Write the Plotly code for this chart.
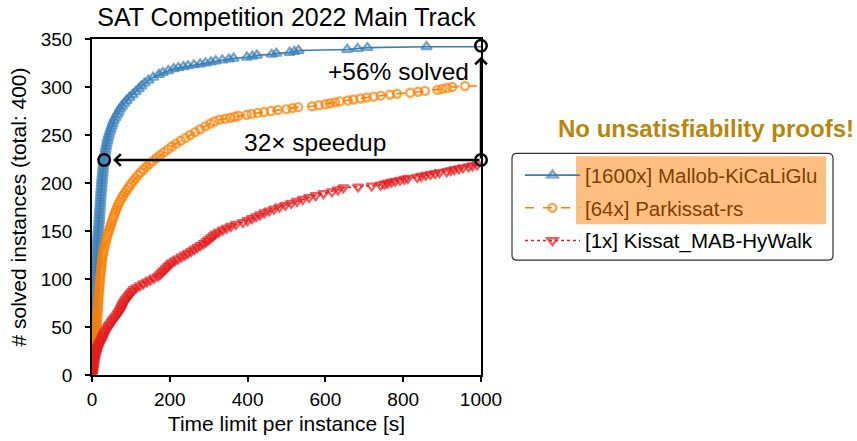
import plotly.graph_objects as go

# ---------------- data ----------------
mallob_counts = [1, 4, 7, 10, 13, 16, 19, 22, 25, 28, 31, 34, 37, 40, 43, 46, 49, 52, 55, 58,
                 61, 64, 67, 70, 73, 76, 79, 82, 85, 88, 91, 94, 97, 100, 103, 106, 109, 112, 115, 118,
                 121, 124, 127, 130, 133, 136, 139, 142, 145, 148, 151, 154, 157, 160, 163, 166, 169, 172, 175, 178,
                 181, 184, 187, 190, 193, 196, 199, 202, 205, 208, 211, 214, 217, 220, 223, 226, 229, 232, 235, 238,
                 241, 244, 247, 250, 253, 256, 259, 262, 265, 268, 271, 274, 277, 280, 283, 286, 289, 292, 295, 298,
                 301, 304, 307, 310, 313, 315, 317, 319, 320, 321, 322, 323, 324, 325, 326, 327, 328, 329, 330, 331,
                 332, 333, 334, 335, 336, 337, 338, 339, 340, 341, 342]
mallob_times = [0.8, 1.0, 1.2, 1.4, 1.6, 1.8, 2.0, 2.2, 2.4, 2.6, 2.8, 3.0, 3.2, 3.4, 3.6, 3.8, 4.0, 4.2, 4.4, 4.6,
                4.8, 5.0, 5.2, 5.4, 5.6, 5.8, 6.0, 6.2, 6.4, 6.6, 6.8, 7.0, 7.3, 7.6, 8.0, 8.4, 8.8, 9.2, 9.6, 10.0,
                10.5, 11.0, 11.5, 12.0, 12.6, 13.2, 13.8, 14.4, 15.0, 15.6, 16.2, 16.8, 17.4, 18.0, 18.5, 19.0, 19.5, 20.0, 20.5, 21.0,
                21.5, 22.0, 22.5, 23.0, 23.6, 24.2, 24.8, 25.4, 26.0, 26.7, 27.4, 28.1, 28.8, 29.6, 30.5, 31.5, 32.6, 33.8, 35.0, 36.3,
                37.8, 39.4, 41.0, 43.0, 45.5, 48, 50.5, 53, 56, 60, 64, 68, 72, 77, 83, 89, 96, 104, 112, 120,
                127, 135, 145, 157, 172, 182, 196, 210, 222, 235, 247, 262, 278, 292, 306, 318, 335, 352, 364, 398,
                412, 424, 462, 474, 508, 520, 531, 656, 683, 708, 860]

parkissat_counts = [1, 4, 7, 10, 13, 16, 19, 22, 25, 28, 31, 34, 37, 40, 43, 46, 49, 52, 55, 58,
                    61, 64, 67, 70, 73, 76, 79, 82, 85, 88, 91, 94, 97, 100, 103, 106, 109, 112, 115, 118,
                    121, 124, 127, 130, 133, 136, 139, 142, 145, 148, 151, 154, 157, 160, 163, 166, 169, 172, 175, 178,
                    181, 184, 187, 190, 193, 196, 199, 202, 205, 208, 211, 214, 217, 220, 223, 226, 229, 232, 235, 238,
                    241, 244, 247, 250, 253, 256, 259, 262, 264, 266, 267, 268, 269, 270, 271, 272, 273, 274, 275, 276,
                    277, 278, 279, 280, 281, 282, 283, 284, 285, 286, 287, 288, 289, 290, 291, 292, 293, 294, 295, 296,
                    297, 298, 299, 300, 301]
parkissat_times = [0.8, 1.2, 1.6, 2.0, 2.6, 3.2, 3.8, 4.4, 5.2, 6.2, 7.2, 8.0, 8.8, 9.5, 10.2, 10.8, 11.4, 12.0, 12.6, 13.2,
                   13.8, 14.3, 14.8, 15.2, 15.6, 16.0, 16.5, 17.0, 17.6, 18.2, 18.8, 19.4, 20.0, 20.6, 21.4, 22.2, 23.0, 23.8, 24.6, 25.4,
                   26.3, 27.3, 28.5, 30.0, 31.8, 33.6, 35.5, 37.5, 39.6, 42.0, 44.2, 46.5, 49.0, 51.5, 54.0, 56.5, 59.0, 62, 65, 68,
                   72, 76, 80, 85, 90, 95, 100, 106, 112, 118, 125, 132, 140, 148, 157, 166, 175, 185, 195, 205,
                   216, 228, 240, 252, 265, 278, 291, 304, 315, 328, 342, 355, 367, 376, 398, 410, 426, 442, 460, 478,
                   500, 515, 530, 566, 583, 600, 612, 625, 637, 658, 672, 690, 706, 724, 742, 766, 784, 818, 838, 856,
                   888, 900, 912, 926, 959]

kissat_counts = [1, 3, 5, 7, 9, 11, 13, 15, 17, 19, 21, 23, 25, 27, 29, 31, 33, 35, 37, 39,
                 41, 43, 45, 47, 49, 51, 53, 55, 57, 59, 61, 63, 65, 67, 69, 71, 73, 75, 77, 79,
                 81, 83, 85, 87, 89, 91, 93, 95, 97, 99, 101, 103, 105, 107, 109, 111, 113, 115, 117, 119,
                 121, 123, 125, 127, 129, 131, 133, 135, 137, 139, 141, 143, 145, 147, 149, 151, 153, 155, 157, 159,
                 161, 163, 165, 167, 169, 171, 173, 175, 177, 179, 181, 183, 185, 187, 189, 191, 193, 195, 196, 197,
                 198, 199, 200, 201, 202, 203, 204, 205, 206, 207, 208, 209, 210, 211, 212, 213, 214, 215, 216, 217,
                 218, 219]
kissat_times = [0.5, 1.2, 2.0, 2.8, 3.5, 4.2, 5.0, 6.0, 7.0, 8.0, 9.3, 10.6, 12.0, 13.5, 15.5, 17.5, 20, 22.5, 25, 27,
                29, 31.5, 34, 37, 40, 43, 46, 50, 53, 57, 61, 65, 68, 71, 74, 76, 78, 81, 84, 87,
                91, 95, 99, 103, 107, 114, 123, 132, 141, 150, 160, 170, 175, 180, 185, 190, 195, 200, 205, 213,
                221, 230, 239, 247, 255, 263, 271, 279, 287, 294, 300, 306, 312, 318, 326, 336, 346, 357, 370, 388,
                400, 411, 422, 432, 443, 455, 468, 482, 497, 512, 527, 542, 558, 575, 595, 617, 632, 646, 684, 719,
                742, 752, 760, 770, 780, 792, 803, 812, 836, 846, 858, 870, 882, 893, 912, 922, 932, 943, 954, 968,
                978, 990]

series_names = ["[1600x] Mallob-KiCaLiGlu", "[64x] Parkissat-rs", "[1x] Kissat_MAB-HyWalk"]
highlighted = [True, True, False]
time_limit = 1000
x_ticks = [0, 200, 400, 600, 800, 1000]
y_ticks = [0, 50, 100, 150, 200, 250, 300, 350]

speedup_time = 31.25      # 1000 s / 32
speedup_level = 224       # solved count marked by the horizontal arrow
solved_level = 343        # solved count marked at the top of the vertical arrow

# ---------------- styling / layout ----------------
FONT = "Liberation Sans"
W, H = 857, 441
L, R, T, B = 92, 376, 38.5, 66
PW, PH = W - L - R, H - T - B


def px(xp):
    return (xp - L) / PW


def py(yp):
    return (H - B - yp) / PH


styles = [
    dict(color="#377eb8", dash="solid", symbol="triangle-up-open", size=9),
    dict(color="#ff7f00", dash="dash", symbol="circle-open", size=8),
    dict(color="#e41a1c", dash="dot", symbol="triangle-down-open", size=9),
]
all_times = [mallob_times, parkissat_times, kissat_times]
all_counts = [mallob_counts, parkissat_counts, kissat_counts]

fig = go.Figure()
for i, (ts, ns) in enumerate(zip(all_times, all_counts)):
    st = styles[i]
    xs = list(ts) + [time_limit]
    ys = list(ns) + [ns[-1]]
    sizes = [st["size"]] * len(ts) + [0]
    name = series_names[i]
    if highlighted[i]:
        name = '<span style="color:#7f3f00">' + name + '</span>'
    fig.add_trace(go.Scatter(
        x=xs, y=ys, mode="lines+markers", name=name, legendgroup=str(i),
        line=dict(color=st["color"], width=1.6, dash=st["dash"]),
        marker=dict(symbol=st["symbol"], size=sizes, color=st["color"],
                    line=dict(color=st["color"], width=2.4)),
        hoverinfo="skip",
    ))

# circles marking the compared points
fig.add_trace(go.Scatter(
    x=[speedup_time, time_limit, time_limit],
    y=[speedup_level, speedup_level, solved_level],
    mode="markers", showlegend=False, cliponaxis=False, hoverinfo="skip",
    marker=dict(symbol="circle-open", size=11.5, color="black", line=dict(color="black", width=2.5)),
))

axis_common = dict(
    showline=True, linecolor="black", linewidth=1.5, mirror=True,
    ticks="outside", ticklen=5, tickwidth=1.5, tickcolor="black",
    showgrid=False, zeroline=False, automargin=False,
    tickfont=dict(family=FONT, size=19, color="black"),
)

fig.update_layout(
    width=W, height=H,
    margin=dict(l=L, r=R, t=T, b=B, pad=0, autoexpand=False),
    paper_bgcolor="white", plot_bgcolor="white",
    font=dict(family=FONT, color="black"),
    title=dict(text="SAT Competition 2022 Main Track", x=0.5, xref="paper", xanchor="center",
               y=1 - 17 / H, yref="container", yanchor="middle",
               font=dict(family=FONT, size=25, color="black")),
    xaxis=dict(range=[0, time_limit], tickvals=x_ticks, ticklabelstandoff=1,
               title=dict(text="Time limit per instance [s]", font=dict(family=FONT, size=21), standoff=8),
               **axis_common),
    yaxis=dict(range=[0, 350], tickvals=y_ticks, ticklabelstandoff=9,
               title=dict(text="# solved instances (total: 400)", font=dict(family=FONT, size=21), standoff=8),
               **axis_common),
    legend=dict(x=px(520), y=py(155), xanchor="left", yanchor="top",
                bgcolor="rgba(0,0,0,0)", borderwidth=0,
                font=dict(family=FONT, size=20.5, color="black"),
                traceorder="grouped", tracegroupgap=3, itemwidth=55),
    showlegend=True,
)

# legend highlight and rounded frame
fig.add_shape(type="rect", xref="paper", yref="paper", layer="below",
              x0=px(576), x1=px(826), y0=py(224), y1=py(156),
              fillcolor="#ffbf80", line=dict(width=0))
bx0, bx1, by0, by1, rr = 512, 833, 153, 260, 5
path = (f"M {px(bx0 + rr)} {py(by0)} L {px(bx1 - rr)} {py(by0)} "
        f"Q {px(bx1)} {py(by0)} {px(bx1)} {py(by0 + rr)} L {px(bx1)} {py(by1 - rr)} "
        f"Q {px(bx1)} {py(by1)} {px(bx1 - rr)} {py(by1)} L {px(bx0 + rr)} {py(by1)} "
        f"Q {px(bx0)} {py(by1)} {px(bx0)} {py(by1 - rr)} L {px(bx0)} {py(by0 + rr)} "
        f"Q {px(bx0)} {py(by0)} {px(bx0 + rr)} {py(by0)} Z")
fig.add_shape(type="path", xref="paper", yref="paper", path=path, layer="below",
              line=dict(color="#333333", width=1.2), fillcolor="rgba(0,0,0,0)")

# arrows
fig.add_annotation(x=speedup_time, y=speedup_level, ax=time_limit, ay=speedup_level,
                   xref="x", yref="y", axref="x", ayref="y", text="", showarrow=True,
                   arrowhead=4, arrowsize=0.9, arrowwidth=2.5, arrowcolor="black", standoff=9)
fig.add_annotation(x=time_limit, y=solved_level, ax=time_limit, ay=speedup_level,
                   xref="x", yref="y", axref="x", ayref="y", text="", showarrow=True,
                   arrowhead=4, arrowsize=0.9, arrowwidth=2.5, arrowcolor="black", standoff=11)

# text annotations
fig.add_annotation(x=787, y=316, xref="x", yref="y", text="+56% solved", showarrow=False,
                   xanchor="center", yanchor="middle", font=dict(family=FONT, size=24.5, color="black"))
fig.add_annotation(x=574, y=242, xref="x", yref="y", text="32\u00d7 speedup", showarrow=False,
                   xanchor="center", yanchor="middle", font=dict(family=FONT, size=24.5, color="black"))
fig.add_annotation(x=px(706), y=py(128), xref="paper", yref="paper",
                   text="<b>No unsatisfiability proofs!</b>", showarrow=False,
                   xanchor="center", yanchor="middle", font=dict(family=FONT, size=24, color="#b8860b"))

fig.write_html("out.html")
